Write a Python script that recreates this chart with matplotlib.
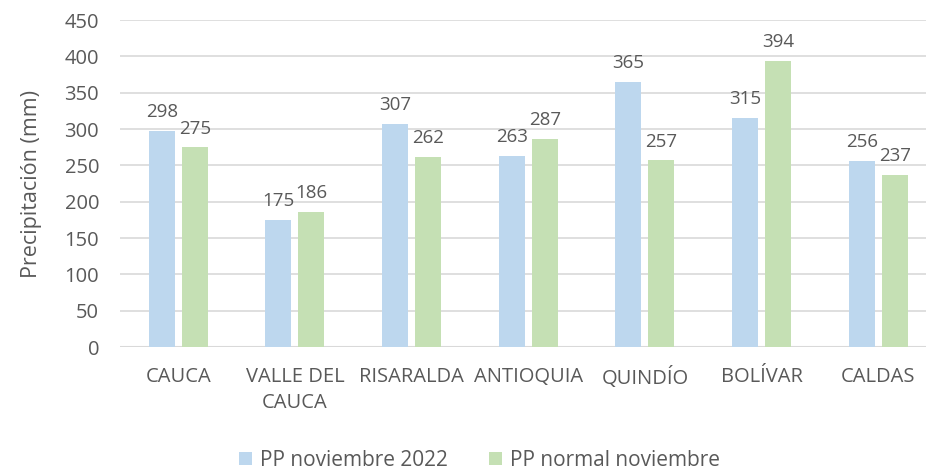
import numpy as np
import matplotlib.pyplot as plt

plt.rcParams['font.family'] = ['Open Sans', 'DejaVu Sans']

departamentos = ['CAUCA', 'VALLE DEL\nCAUCA', 'RISARALDA', 'ANTIOQUIA', 'QUINDÍO', 'BOLÍVAR', 'CALDAS']
pp_2022 = [298, 175, 307, 263, 365, 315, 256]
pp_normal = [275, 186, 262, 287, 257, 394, 237]

texto = '#595959'
azul = '#BDD7EE'
verde = '#C5E0B4'

fig = plt.figure(figsize=(9.26, 4.71), dpi=100)
ax = fig.add_axes([0.1296, 0.263, 0.8704, 0.6945])

x = np.arange(len(departamentos))
ancho = 0.223
sep = 0.03
b1 = ax.bar(x - ancho / 2 - sep, pp_2022, ancho, color=azul, label='PP noviembre 2022', zorder=2)
b2 = ax.bar(x + ancho / 2 + sep, pp_normal, ancho, color=verde, label='PP normal noviembre', zorder=2)

for barras in (b1, b2):
    for b in barras:
        ax.annotate(str(int(b.get_height())), (b.get_x() + b.get_width() / 2, b.get_height()),
                    xytext=(0, 7), textcoords='offset points', ha='center', va='bottom',
                    fontsize=13.5, color=texto)

ax.set_ylim(0, 450)
ax.set_yticks(range(0, 451, 50))
ax.set_xlim(-0.5, 6.41)
ax.set_xticks(x)
ax.set_xticklabels(departamentos, fontsize=14.5, color=texto, linespacing=1.45)
ax.tick_params(axis='y', labelsize=14.5, labelcolor=texto, length=0, pad=15)
ax.tick_params(axis='x', length=0, pad=14)
ax.grid(axis='y', color='#D9D9D9', linewidth=1.2, zorder=0)
for s in ax.spines.values():
    s.set_visible(False)
ax.axhline(0, color='#D9D9D9', linewidth=1.5, zorder=1)

ax.set_ylabel('Precipitación (mm)', fontsize=15.5, color=texto, labelpad=16)

fig.legend(loc='lower center', bbox_to_anchor=(0.518, -0.04), ncol=2, frameon=False,
           fontsize=15, labelcolor=texto, handlelength=0.6, handleheight=0.6,
           handletextpad=0.4, columnspacing=2.0)

fig.savefig('out.png', dpi=100)
